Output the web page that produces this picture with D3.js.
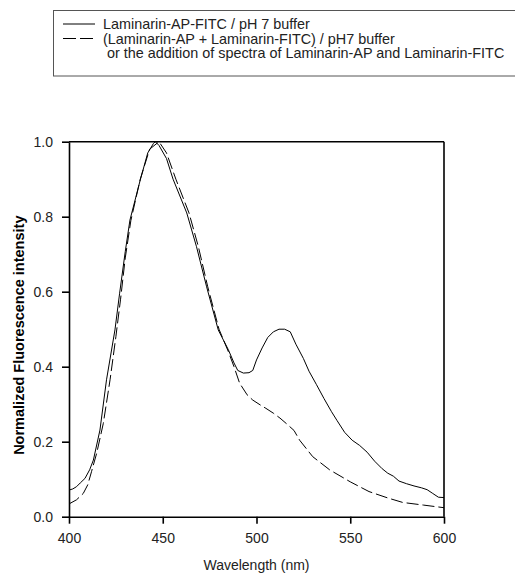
<!DOCTYPE html>
<html>
<head>
<meta charset="utf-8">
<script src="https://cdn.jsdelivr.net/npm/d3@7"></script>
<style>
  body { margin: 0; background: #fff; }
  svg { font-family: "Liberation Sans", Arial, sans-serif; }
  .axis path, .axis line { stroke: #000; stroke-width: 1.6; }
  .axis text { font-size: 14px; fill: #222; }
</style>
</head>
<body>
<div id="chart"></div>
<script>
// wavelength (nm) / normalized intensity
const solidWl = [400, 402, 404, 406, 408.5, 411, 413, 416.5, 420, 424.5, 427, 430, 432.5, 438, 442, 445, 446, 448, 452, 455.5, 462.8, 468, 473.4, 479.6,
                 485, 488, 490, 493, 496, 498, 500, 503, 506, 509, 512, 515, 518, 521, 525, 528, 532, 536, 540, 543, 547, 551, 555, 559, 563, 567, 570,
                 573, 576, 580, 584, 588, 591, 594, 597, 600];
const solidVal = [0.071, 0.074, 0.080, 0.090, 0.102, 0.125, 0.151, 0.231, 0.365, 0.498, 0.596, 0.707, 0.791, 0.898, 0.970, 0.995, 1.0, 0.99, 0.955, 0.90, 0.81, 0.72, 0.613, 0.498,
                  0.445, 0.41, 0.39, 0.383, 0.384, 0.39, 0.418, 0.45, 0.478, 0.493, 0.50, 0.50, 0.493, 0.46, 0.422, 0.388, 0.352, 0.315, 0.28, 0.256, 0.225, 0.204, 0.19, 0.172, 0.148, 0.128, 0.116,
                  0.108, 0.095, 0.088, 0.082, 0.077, 0.072, 0.062, 0.052, 0.051];

const dashWl = [400, 404, 407.6, 410, 412, 414.8, 418.3, 421.9, 425, 427.5, 430, 433, 438, 443, 448, 452, 457, 464, 469, 474, 480,
                485, 488, 491, 495, 498, 502, 505, 509, 512.5, 516, 520, 523, 530, 539, 550, 560, 570, 578, 589, 600];
const dashVal = [0.034, 0.045, 0.062, 0.085, 0.12, 0.17, 0.249, 0.365, 0.48, 0.58, 0.69, 0.79, 0.90, 0.98, 1.0, 0.97, 0.90, 0.81, 0.72, 0.613, 0.50,
                 0.44, 0.40, 0.356, 0.325, 0.311, 0.298, 0.289, 0.276, 0.263, 0.248, 0.23, 0.204, 0.16, 0.125, 0.093, 0.067, 0.05, 0.038, 0.031, 0.024];

const xTicks = [400, 450, 500, 550, 600];
const yTicks = [0.0, 0.2, 0.4, 0.6, 0.8, 1.0];

const legendItems = [
    {dash: null, lines: ["Laminarin-AP-FITC / pH 7 buffer"]},
    {dash: "13,4", lines: ["(Laminarin-AP + Laminarin-FITC) / pH7 buffer", " or the addition of spectra of Laminarin-AP and Laminarin-FITC"]}
];

/* ---------------------------------- */
const W = 515, H = 574;
const PLOT = {left: 69, right: 444, top: 141.7, bottom: 516.7};

var svg = d3.select("#chart").append("svg")
            .attr("width", W)
            .attr("height", H);

var x = d3.scaleLinear().domain([400, 600]).range([PLOT.left, PLOT.right]);
var y = d3.scaleLinear().domain([0, 1]).range([PLOT.bottom, PLOT.top]);

// frame top / right
svg.append("line")
   .attr("x1", PLOT.left).attr("x2", PLOT.right)
   .attr("y1", PLOT.top).attr("y2", PLOT.top)
   .attr("stroke", "#000").attr("stroke-width", 1.6);
svg.append("line")
   .attr("x1", PLOT.right).attr("x2", PLOT.right)
   .attr("y1", PLOT.top).attr("y2", PLOT.bottom)
   .attr("stroke", "#000").attr("stroke-width", 1.6);

svg.append("g")
   .classed("axis", true)
   .attr("transform", "translate(0," + PLOT.bottom + ")")
   .call(d3.axisBottom(x).tickValues(xTicks).tickSize(7).tickSizeOuter(0).tickPadding(9).tickFormat(d3.format("d")));
svg.append("g")
   .classed("axis", true)
   .attr("transform", "translate(" + PLOT.left + ",0)")
   .call(d3.axisLeft(y).tickValues(yTicks).tickSize(7).tickSizeOuter(0).tickPadding(9).tickFormat(d3.format(".1f")));

var line = d3.line()
             .x((d) => x(d[0]))
             .y((d) => y(d[1]));

svg.append("path")
   .datum(solidWl.map((w, i) => [w, solidVal[i]]))
   .attr("d", line)
   .attr("fill", "none")
   .attr("stroke", "#000")
   .attr("stroke-width", 1);
svg.append("path")
   .datum(dashWl.map((w, i) => [w, dashVal[i]]))
   .attr("d", line)
   .attr("fill", "none")
   .attr("stroke", "#000")
   .attr("stroke-width", 1)
   .attr("stroke-dasharray", "12,4");

// axis titles
svg.append("text")
   .attr("x", (PLOT.left + PLOT.right) / 2)
   .attr("y", 570)
   .attr("text-anchor", "middle")
   .attr("font-size", "14px")
   .attr("fill", "#222")
   .text("Wavelength (nm)");
svg.append("text")
   .attr("transform", "translate(24," + ((PLOT.top + PLOT.bottom) / 2 + 6) + ") rotate(-90)")
   .attr("text-anchor", "middle")
   .attr("font-size", "14.5px")
   .attr("font-weight", "bold")
   .text("Normalized Fluorescence intensity");

// legend
var lg = svg.append("g");
lg.append("rect")
  .attr("x", 53.5).attr("y", 10.5)
  .attr("width", 470).attr("height", 65.5)
  .attr("fill", "none")
  .attr("stroke", "#555")
  .attr("stroke-width", 1);
var row = 0;
legendItems.forEach(function(item){
    var cy = 24 + row * 14.5;
    lg.append("line")
      .attr("x1", 63).attr("x2", 95)
      .attr("y1", cy).attr("y2", cy)
      .attr("stroke", "#000")
      .attr("stroke-width", 1)
      .attr("stroke-dasharray", item.dash);
    item.lines.forEach(function(t){
        lg.append("text")
          .attr("x", 103)
          .attr("y", 24 + row * 14.6 + 5)
          .attr("font-size", "14.4px")
          .attr("fill", "#222")
          .attr("xml:space", "preserve")
          .style("white-space", "pre")
          .text(t);
        row++;
    });
});
</script>
</body>
</html>
